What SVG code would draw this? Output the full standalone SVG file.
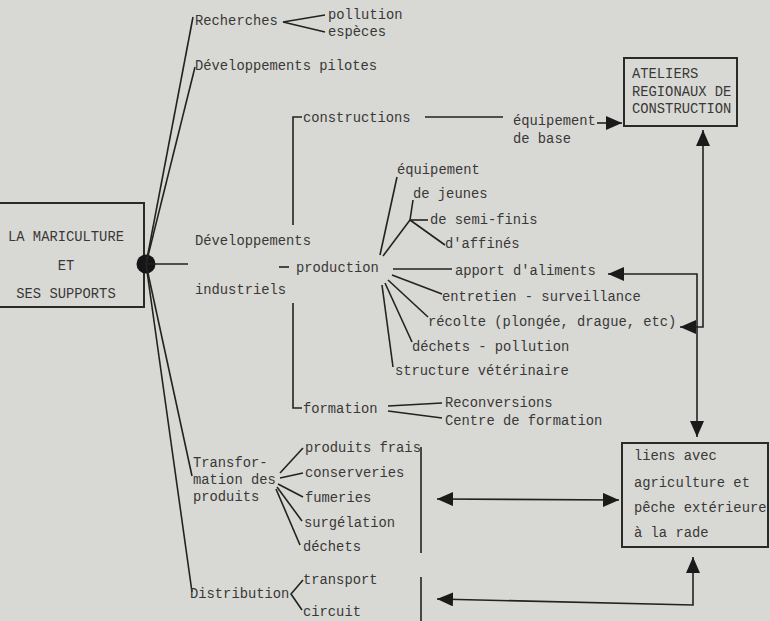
<svg xmlns="http://www.w3.org/2000/svg" width="770" height="621" viewBox="0 0 770 621">
<style>
text{font-family:"Liberation Mono","DejaVu Sans Mono",monospace;font-size:13.8px;fill:#383838}
.ln{stroke:#222;stroke-width:1.6;fill:none}
.box{stroke:#2a2a2a;stroke-width:2;fill:none}
.c{text-anchor:middle}
</style>
<defs>
<marker id="ah" viewBox="0 0 16 14" refX="16" refY="7" markerWidth="16" markerHeight="14" markerUnits="userSpaceOnUse" orient="auto-start-reverse">
<path d="M0,0 L16,7 L0,14 Z" fill="#1a1a1a"/>
</marker>
</defs>
<rect width="770" height="621" fill="#d8d8d4"/>

<g id="root">
<path class="box" d="M-2,203 H144 V307 H-2"/>
<text class="c" x="66" y="241">LA MARICULTURE</text>
<text class="c" x="66" y="270">ET</text>
<text class="c" x="66" y="298">SES SUPPORTS</text>
</g>

<g id="connectors">
<circle cx="146" cy="264" r="9.5" fill="#151515"/>
<line class="ln" x1="146" y1="264" x2="193" y2="17"/>
<line class="ln" x1="146" y1="264" x2="195" y2="67"/>
<line class="ln" x1="146" y1="264" x2="188" y2="264"/>
<line class="ln" x1="146" y1="264" x2="192" y2="476"/>
<line class="ln" x1="146" y1="264" x2="192" y2="592"/>
<!-- recherches fork -->
<polyline class="ln" points="325,15 283,22 325,32"/>
<!-- dev industriels bracket -->
<polyline class="ln" points="302,117 293,117 293,225"/>
<line class="ln" x1="279" y1="267" x2="289" y2="267"/>
<polyline class="ln" points="293,303 293,408 302,408"/>
<!-- constructions -->
<line class="ln" x1="425" y1="117" x2="503" y2="117"/>
<line class="ln" x1="597" y1="123" x2="622" y2="123" marker-end="url(#ah)"/>
<!-- production fan -->
<line class="ln" x1="380" y1="255" x2="397" y2="177"/>
<line class="ln" x1="383" y1="256" x2="410" y2="220"/>
<line class="ln" x1="410" y1="220" x2="413" y2="200"/>
<line class="ln" x1="410" y1="220" x2="428" y2="220"/>
<line class="ln" x1="410" y1="220" x2="445" y2="245"/>
<line class="ln" x1="393" y1="269" x2="452" y2="269"/>
<line class="ln" x1="392" y1="275" x2="442" y2="294"/>
<line class="ln" x1="388" y1="280" x2="428" y2="317"/>
<line class="ln" x1="385" y1="283" x2="412" y2="342"/>
<line class="ln" x1="382" y1="285" x2="393" y2="367"/>
<!-- formation fork -->
<line class="ln" x1="388" y1="406" x2="442" y2="403"/>
<line class="ln" x1="388" y1="411" x2="442" y2="418"/>
<!-- transformation fork -->
<line class="ln" x1="280" y1="473" x2="303" y2="448"/>
<line class="ln" x1="280" y1="478" x2="303" y2="473"/>
<line class="ln" x1="278" y1="484" x2="303" y2="497"/>
<line class="ln" x1="277" y1="487" x2="302" y2="521"/>
<line class="ln" x1="276" y1="489" x2="300" y2="545"/>
<!-- distribution fork -->
<polyline class="ln" points="303,580 291,594 302,610"/>
<!-- bars -->
<line class="ln" x1="421" y1="447" x2="421" y2="553"/>
<line class="ln" x1="421" y1="577" x2="421" y2="621"/>
<!-- right side arrows -->
<polyline class="ln" points="680,327 703,327 703,130" marker-start="url(#ah)" marker-end="url(#ah)"/>
<polyline class="ln" points="608,274 697,274 697,437" marker-start="url(#ah)" marker-end="url(#ah)"/>
<line class="ln" x1="437" y1="499" x2="619" y2="500" marker-start="url(#ah)" marker-end="url(#ah)"/>
<polyline class="ln" points="437,599 693,605 693,557" marker-start="url(#ah)" marker-end="url(#ah)"/>
</g>

<g id="recherches">
<text x="195" y="25">Recherches</text>
<text x="328" y="19">pollution</text>
<text x="328" y="36">espèces</text>
</g>
<g id="dev-pilotes"><text x="195" y="70">Développements pilotes</text></g>
<g id="dev-industriels">
<text x="195" y="245">Développements</text>
<text x="195" y="294">industriels</text>
</g>
<g id="constructions">
<text x="303" y="122">constructions</text>
<text x="513" y="125">équipement</text>
<text x="513" y="143">de base</text>
</g>
<g id="ateliers">
<rect class="box" x="624" y="58" width="113" height="68"/>
<text x="632" y="78">ATELIERS</text>
<text x="632" y="96">REGIONAUX DE</text>
<text x="632" y="113">CONSTRUCTION</text>
</g>
<g id="production">
<text x="296" y="272">production</text>
<text x="397" y="174">équipement</text>
<text x="413" y="198">de jeunes</text>
<text x="430" y="224">de semi-finis</text>
<text x="445" y="248">d'affinés</text>
<text x="455" y="275">apport d'aliments</text>
<text x="442" y="301">entretien - surveillance</text>
<text x="428" y="326">récolte (plongée, drague, etc)</text>
<text x="412" y="351">déchets - pollution</text>
<text x="395" y="375">structure vétérinaire</text>
</g>
<g id="formation">
<text x="303" y="413">formation</text>
<text x="445" y="407">Reconversions</text>
<text x="445" y="425">Centre de formation</text>
</g>
<g id="transformation">
<text x="193" y="467">Transfor-</text>
<text x="193" y="484">mation des</text>
<text x="193" y="501">produits</text>
<text x="305" y="452">produits frais</text>
<text x="305" y="477">conserveries</text>
<text x="305" y="502">fumeries</text>
<text x="304" y="527">surgélation</text>
<text x="303" y="551">déchets</text>
</g>
<g id="distribution">
<text x="190" y="598">Distribution</text>
<text x="303" y="584">transport</text>
<text x="303" y="616">circuit</text>
</g>
<g id="liens">
<rect class="box" x="622" y="443" width="146" height="104"/>
<text x="634" y="460">liens avec</text>
<text x="634" y="487">agriculture et</text>
<text x="634" y="512">pêche extérieure</text>
<text x="634" y="537">à la rade</text>
</g>
</svg>
